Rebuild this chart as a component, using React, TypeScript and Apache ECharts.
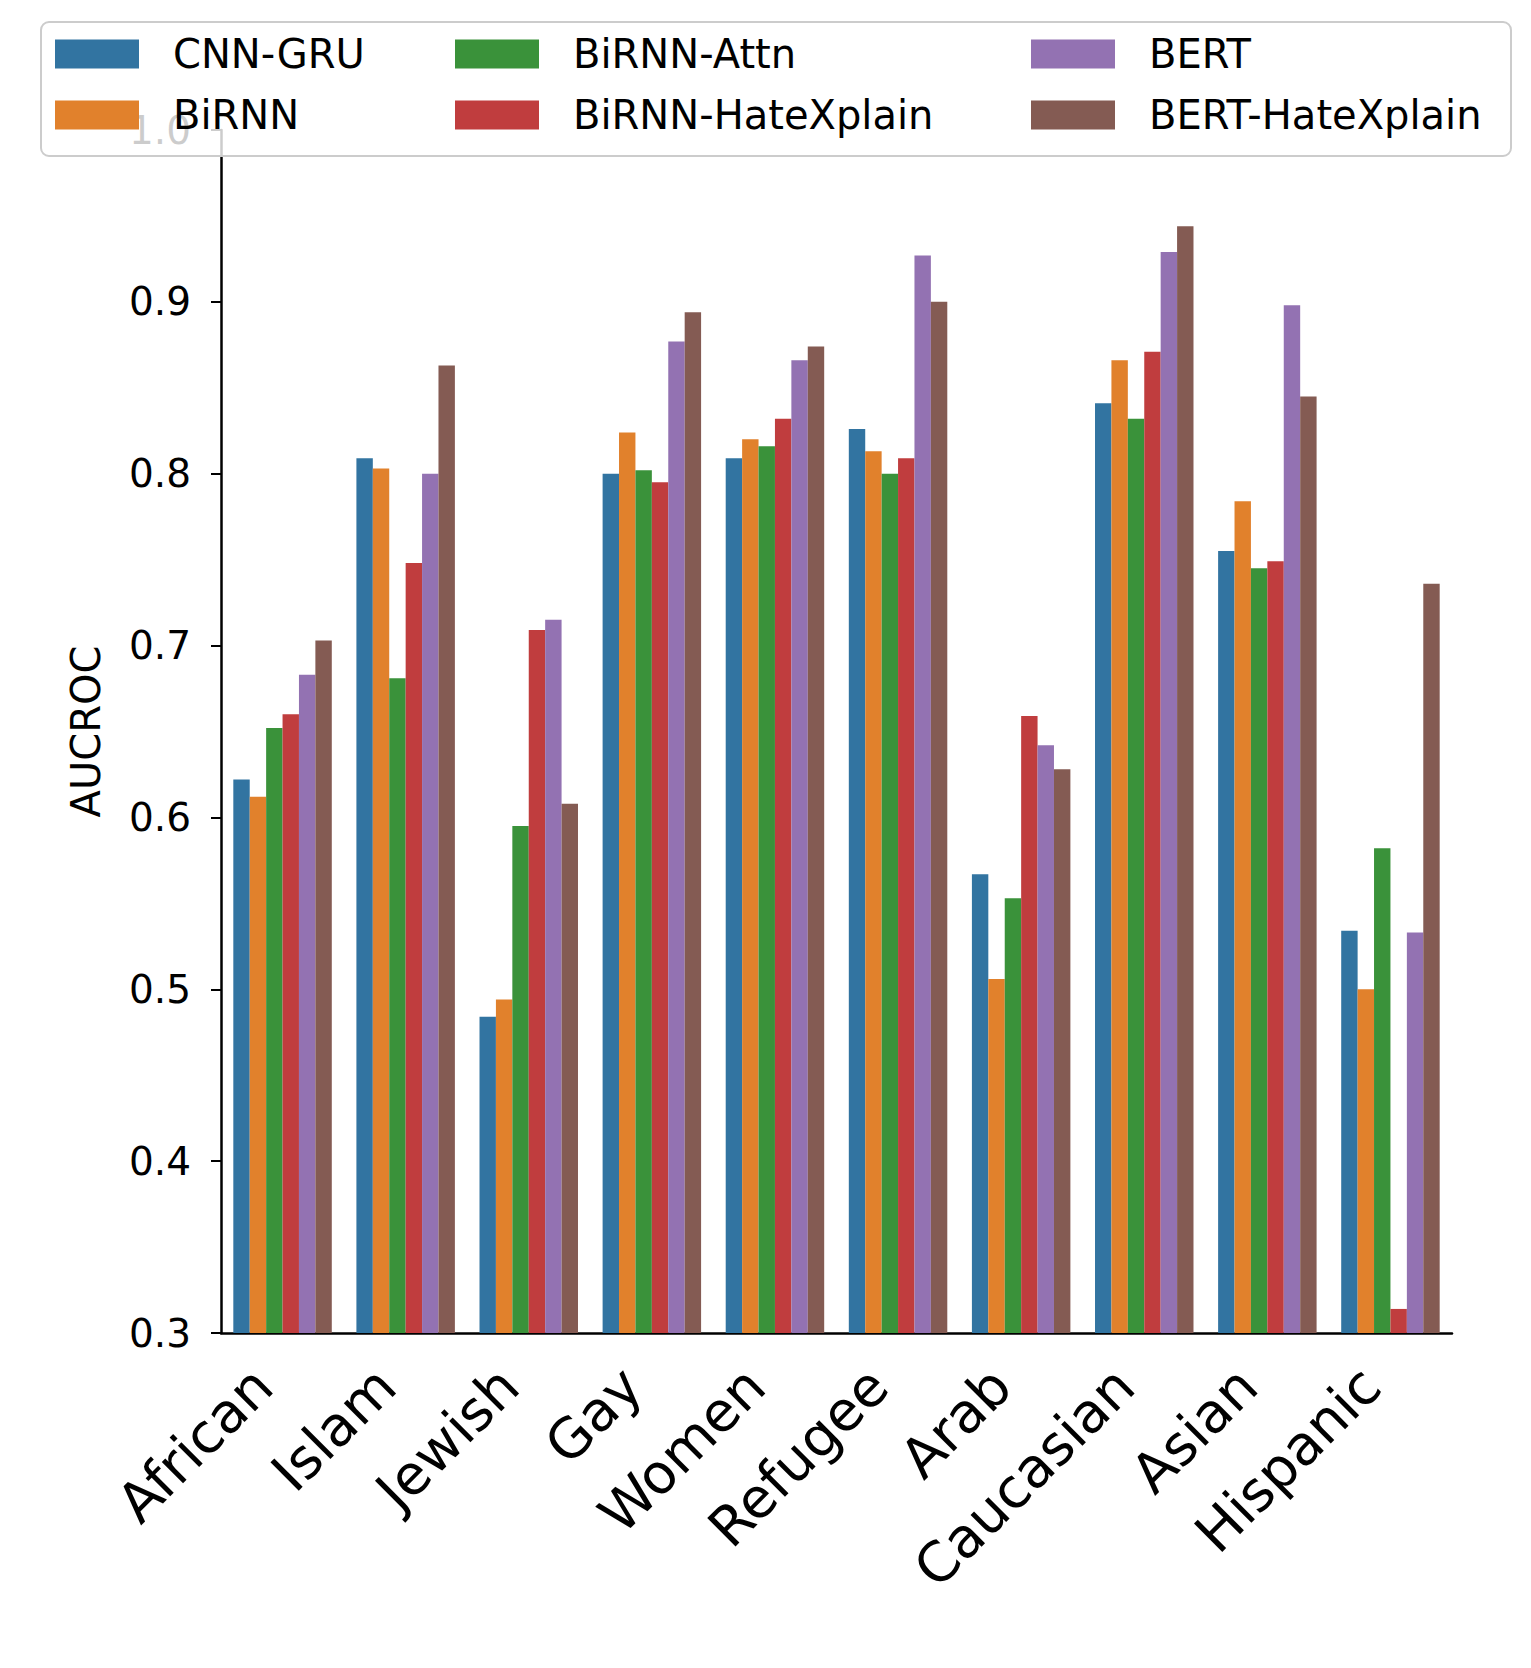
import React, { useEffect, useRef } from "react";
import * as echarts from "echarts";

const categories = ["African", "Islam", "Jewish", "Gay", "Women", "Refugee", "Arab", "Caucasian", "Asian", "Hispanic"];
const seriesNames = ["CNN-GRU", "BiRNN", "BiRNN-Attn", "BiRNN-HateXplain", "BERT", "BERT-HateXplain"];
const cnnGru = [0.622, 0.809, 0.484, 0.800, 0.809, 0.826, 0.567, 0.841, 0.755, 0.534];
const biRnn = [0.612, 0.803, 0.494, 0.824, 0.820, 0.813, 0.506, 0.866, 0.784, 0.500];
const biRnnAttn = [0.652, 0.681, 0.595, 0.802, 0.816, 0.800, 0.553, 0.832, 0.745, 0.582];
const biRnnHateXplain = [0.660, 0.748, 0.709, 0.795, 0.832, 0.809, 0.659, 0.871, 0.749, 0.314];
const bert = [0.683, 0.800, 0.715, 0.877, 0.866, 0.927, 0.642, 0.929, 0.898, 0.533];
const bertHateXplain = [0.703, 0.863, 0.608, 0.894, 0.874, 0.900, 0.628, 0.944, 0.845, 0.736];
const colors = ["#3274a1", "#e1812c", "#3a923a", "#c03d3e", "#9372b2", "#845b53"];

const FONT = "DejaVu Sans";

export default function App() {
  const ref = useRef<HTMLDivElement>(null);
  useEffect(() => {
    if (!ref.current) return;
    const chart = echarts.init(ref.current, null, { renderer: "svg" });
    const values = [cnnGru, biRnn, biRnnAttn, biRnnHateXplain, bert, bertHateXplain];
    const legendBase = {
      orient: "vertical",
      itemWidth: 84,
      itemHeight: 29,
      itemGap: 21,
      padding: 0,
      icon: "rect",
      z: 20,
      selectedMode: false,
      textStyle: { fontFamily: FONT, fontSize: 40, lineHeight: 40, color: "#000", padding: [0, 0, 0, 29] },
    };
    chart.setOption({
      animation: false,
      backgroundColor: "#fff",
      color: colors,
      grid: { left: 221, top: 130, width: 1231, height: 1203, containLabel: false },
      graphic: [
        {
          type: "rect",
          z: 10,
          shape: { x: 41, y: 22, width: 1470, height: 134, r: 8 },
          style: { fill: "rgba(255,255,255,0.8)", stroke: "#cccccc", lineWidth: 2 },
        },
      ],
      legend: [
        { ...legendBase, data: [seriesNames[0], seriesNames[1]], left: 55, top: 34 },
        { ...legendBase, data: [seriesNames[2], seriesNames[3]], left: 455, top: 34 },
        { ...legendBase, data: [seriesNames[4], seriesNames[5]], left: 1031, top: 34 },
      ],
      xAxis: {
        type: "category",
        data: categories,
        axisLine: { lineStyle: { color: "#000", width: 2.5 } },
        axisTick: { length: 10, lineStyle: { color: "#000", width: 2 }, alignWithLabel: true },
        axisLabel: {
          rotate: 45,
          margin: 24,
          fontFamily: FONT,
          fontSize: 55,
          color: "#000",
          padding: [0, 28, 24, 0],
        },
      },
      yAxis: {
        type: "value",
        min: 0.3,
        max: 1.0,
        interval: 0.1,
        name: "AUCROC",
        nameLocation: "middle",
        nameRotate: 90,
        nameGap: 115,
        nameTextStyle: { fontFamily: FONT, fontSize: 40, color: "#000" },
        splitLine: { show: false },
        axisLine: { show: true, lineStyle: { color: "#000", width: 2.5 } },
        axisTick: { show: true, length: 10, lineStyle: { color: "#000", width: 2 } },
        axisLabel: {
          margin: 30,
          fontFamily: FONT,
          fontSize: 39,
          color: "#000",
          formatter: (v: number) => v.toFixed(1),
        },
      },
      series: seriesNames.map((name, i) => ({
        name,
        type: "bar",
        data: values[i],
        barGap: "0%",
        barCategoryGap: "20%",
        itemStyle: { color: colors[i] },
      })),
    });
    return () => chart.dispose();
  }, []);
  return <div ref={ref} style={{ position: "absolute", left: 0, top: 0, width: 1531, height: 1668 }} />;
}
